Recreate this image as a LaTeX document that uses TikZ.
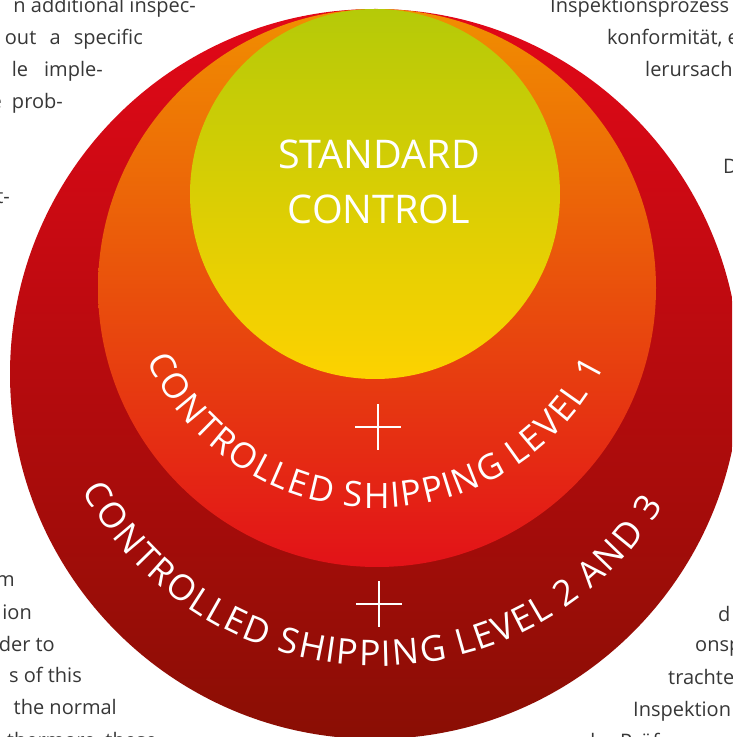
\documentclass[tikz,border=0pt]{standalone}
\usepackage{fontspec}
\setmainfont{Open Sans}
\usetikzlibrary{decorations.text}
\definecolor{ytop}{RGB}{181,202,8}
\definecolor{ymid}{RGB}{222,205,0}
\definecolor{ybot}{RGB}{253,210,0}
\definecolor{otop}{RGB}{241,143,0}
\definecolor{omid}{RGB}{234,95,14}
\definecolor{obot}{RGB}{226,18,24}
\definecolor{rtop}{RGB}{226,8,24}
\definecolor{rmid}{RGB}{184,16,14}
\definecolor{rbot}{RGB}{138,14,4}
\definecolor{bodygray}{RGB}{55,55,55}
\tikzset{
  bodytext/.style={inner sep=0pt, text=bodygray, font=\fontsize{20}{20}\selectfont},
  plusmark/.style={white, line width=2.2pt},
  bigtext/.style={text=white, align=center, inner sep=0pt, font=\fontsize{39.5}{55}\selectfont}
}
\begin{document}
\begin{tikzpicture}[x=1pt,y=1pt]
\useasboundingbox (0,0) rectangle (732,737);
\clip (0,0) rectangle (732,737);
\fill[white] (0,0) rectangle (732,737);
% circles
\shade[top color=rtop, middle color=rmid, bottom color=rbot] (375,363) circle[radius=365pt];
\shade[top color=otop, middle color=omid, bottom color=obot] (377,449) circle[radius=279pt];
\shade[top color=ytop, middle color=ymid, bottom color=ybot] (375,543) circle[radius=185pt];
% main texts
\node[bigtext] (std) at (379,555) {STANDARD\\CONTROL};
\path[decorate, decoration={text effects along path, text={CONTROLLED SHIPPING LEVEL 1},
  text effects/.cd, text along path, fit text to path,
  characters={text=white, anchor=base, inner sep=0pt, font=\fontsize{35}{35}\selectfont}}]
  (377,482) ++(204.5:253pt) arc[start angle=204.5, end angle=334, radius=253pt];
\path[decorate, decoration={text effects along path, text={CONTROLLED SHIPPING LEVEL 2 AND 3},
  text effects/.cd, text along path, fit text to path,
  characters={text=white, anchor=base, inner sep=0pt, font=\fontsize{35.5}{35.5}\selectfont}}]
  (377,407) ++(208.5:336pt) arc[start angle=208.5, end angle=328.5, radius=336pt];
% plus signs
\coordinate (p1) at (378,310);
\coordinate (p2) at (379,133);
\draw[plusmark] ([xshift=-23pt]p1) -- ([xshift=23pt]p1) ([yshift=-23pt]p1) -- ([yshift=23pt]p1);
\draw[plusmark] ([xshift=-23pt]p2) -- ([xshift=23pt]p2) ([yshift=-23pt]p2) -- ([yshift=23pt]p2);
% body text fragments, left top
\node[bodytext, anchor=base east] (l1) at (196,724) {n additional inspec-};
\node[bodytext, anchor=base east] (l2) at (143,692) {out\hspace{8pt} a\hspace{8pt} specific};
\node[bodytext, anchor=base east] (l3) at (103,660) {le\hspace{16pt}imple-};
\node[bodytext, anchor=base east] (l4) at (63,628) {e\hspace{5pt} prob-};
\node[bodytext, anchor=base east] (l5) at (10,533) {t-};
% right top
\node[bodytext, anchor=base west] (r1) at (550,724) {Inspektionsprozess};
\node[bodytext, anchor=base west] (r2) at (607,692) {konformität, e};
\node[bodytext, anchor=base west] (r3) at (645,660) {lerursach};
\node[bodytext, anchor=base west] (r4) at (723,563) {D};
% left bottom
\node[bodytext, anchor=base east] (b1) at (15,150) {m};
\node[bodytext, anchor=base east] (b2) at (32,117) {ion};
\node[bodytext, anchor=base east] (b3) at (55,85) {der to};
\node[bodytext, anchor=base east] (b4) at (82,54) {s of this};
\node[bodytext, anchor=base east] (b5) at (117,22) {the normal};
\node[bodytext, anchor=base east] (b6) at (157,-10) {thermore, these};
% right bottom
\node[bodytext, anchor=base west] (c1) at (718,115) {d};
\node[bodytext, anchor=base west] (c2) at (695,85) {onsp};
\node[bodytext, anchor=base west] (c3) at (668,52) {trachte};
\node[bodytext, anchor=base west] (c4) at (633,20) {Inspektion};
\node[bodytext, anchor=base west] (c5) at (583,-12) {der Prüf};
\end{tikzpicture}
\end{document}
